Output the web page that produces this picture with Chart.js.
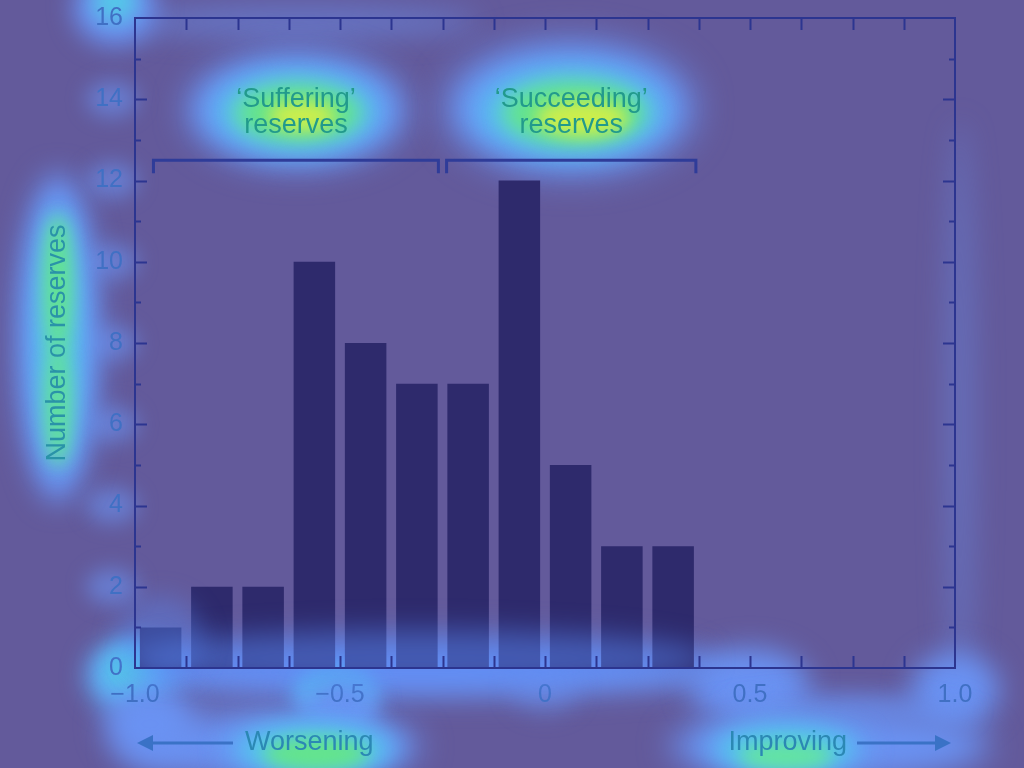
<!DOCTYPE html>
<html><head><meta charset="utf-8">
<style>html,body{margin:0;padding:0;background:#635a9b;overflow:hidden}#wrap{width:1024px;height:768px}</style>
<script src="https://cdn.jsdelivr.net/npm/chart.js@4/dist/chart.umd.min.js"></script>
</head><body><div id="wrap"><canvas id="c" width="1024" height="768"></canvas></div>
<script>
// ---- data ----
const binEdges = [-1.0, -0.875, -0.75, -0.625, -0.5, -0.375, -0.25, -0.125, 0, 0.125, 0.25, 0.375];
const counts = [1, 2, 2, 10, 8, 7, 7, 12, 5, 3, 3];
const xTickValues = [-1.0, -0.5, 0, 0.5, 1.0];
const xTickLabels = ['\u22121.0', '\u22120.5', '0', '0.5', '1.0'];
const yTickValues = [0, 2, 4, 6, 8, 10, 12, 14, 16];
const yTickLabels = ['0', '2', '4', '6', '8', '10', '12', '14', '16'];
const yTitle = 'Number of reserves';
const groupLabels = [['\u2018Suffering\u2019', 'reserves'], ['\u2018Succeeding\u2019', 'reserves']];
const groupSpans = [[-0.955, -0.26], [-0.24, 0.368]];
const groupLevel = 12.5;
const directionLabels = ['Worsening', 'Improving'];

const FONT = "'Liberation Sans', Arial, Helvetica, sans-serif";
const BG = '#635a9b';

function blob(ctx, cx, cy, rx, ry, color, blur) {
  ctx.save();
  ctx.filter = 'blur(' + blur + 'px)';
  ctx.fillStyle = color;
  ctx.beginPath();
  ctx.ellipse(cx, cy, rx, ry, 0, 0, Math.PI * 2);
  ctx.fill();
  ctx.restore();
}

const OUT = 'rgba(106,146,242,1)';
const OUTF = 'rgba(106,146,242,0.5)';
const LB = 'rgba(96,170,246,1)';
const CY = 'rgba(84,200,232,1)';
const GR = 'rgba(100,228,140,1)';
const YE = 'rgba(204,238,76,1)';

const glowPlugin = {
  id: 'glow',
  beforeDraw(chart) {
    const ctx = chart.ctx;
    ctx.save();
    ctx.fillStyle = BG;
    ctx.fillRect(0, 0, chart.width, chart.height);
    // faint halos along frame
    blob(ctx, 300, 22, 180, 16, OUTF, 14);
    blob(ctx, 960, 420, 16, 300, 'rgba(106,146,242,0.35)', 14);
    for (let i = 1; i < 8; i++) {
      const y = 668 - i * 2 * 40.625;
      blob(ctx, 112, y, 26, 18, 'rgba(106,146,242,0.6)', 10);
    }
    // 16 label
    blob(ctx, 115, 8, 42, 38, OUT, 12);
    blob(ctx, 115, 2, 22, 20, CY, 10);
    // y title
    blob(ctx, 58, 338, 42, 165, OUT, 14);
    blob(ctx, 58, 338, 28, 138, LB, 12);
    blob(ctx, 58, 336, 18, 120, CY, 10);
    blob(ctx, 58, 285, 13, 70, GR, 9);
    blob(ctx, 58, 405, 12, 62, 'rgba(100,228,140,0.9)', 9);
    // Suffering
    blob(ctx, 297, 110, 110, 58, OUT, 16);
    blob(ctx, 297, 111, 90, 44, LB, 14);
    blob(ctx, 297, 112, 74, 34, CY, 12);
    blob(ctx, 298, 113, 62, 28, GR, 10);
    blob(ctx, 302, 116, 34, 15, YE, 8);
    // Succeeding
    blob(ctx, 570, 108, 124, 66, OUT, 18);
    blob(ctx, 570, 110, 102, 50, LB, 14);
    blob(ctx, 572, 112, 84, 38, CY, 12);
    blob(ctx, 574, 113, 70, 31, GR, 10);
    blob(ctx, 582, 118, 46, 18, YE, 8);
    // bottom axis band
    blob(ctx, 420, 672, 320, 24, OUT, 14);
    blob(ctx, 130, 676, 44, 38, LB, 12);
    blob(ctx, 128, 672, 24, 24, CY, 10);
    blob(ctx, 335, 692, 44, 30, LB, 10);
    blob(ctx, 335, 692, 30, 20, CY, 10);
    blob(ctx, 340, 712, 36, 34, OUT, 12);
    blob(ctx, 545, 690, 32, 22, OUTF, 12);
    blob(ctx, 750, 686, 60, 38, OUT, 14);
    blob(ctx, 955, 690, 44, 38, OUT, 14);
    blob(ctx, 850, 710, 120, 14, 'rgba(106,146,242,0.7)', 12);
    // Worsening
    blob(ctx, 270, 746, 150, 36, OUT, 16);
    blob(ctx, 150, 724, 46, 38, OUT, 14);
    blob(ctx, 312, 748, 88, 30, LB, 12);
    blob(ctx, 314, 750, 70, 22, CY, 10);
    blob(ctx, 316, 754, 52, 16, GR, 8);
    // Improving
    blob(ctx, 830, 746, 160, 36, OUT, 16);
    blob(ctx, 786, 748, 82, 28, LB, 12);
    blob(ctx, 786, 750, 64, 20, CY, 10);
    blob(ctx, 786, 756, 46, 13, 'rgba(100,228,160,1)', 8);
    ctx.restore();
  },
  afterDatasetsDraw(chart) {
    const ctx = chart.ctx;
    const xs = chart.scales.x, ys = chart.scales.y;
    const { left, right, top, bottom } = chart.chartArea;
    ctx.save();
    // glow over bar bases
    blob(ctx, 420, 658, 290, 28, 'rgba(90,140,250,0.5)', 14);
    blob(ctx, 160, 640, 44, 44, 'rgba(90,140,250,0.35)', 12);
    // frame
    ctx.strokeStyle = '#2c3590';
    ctx.lineWidth = 2;
    ctx.strokeRect(left, top, right - left, bottom - top);
    // x ticks every 0.125, inward, top and bottom
    ctx.beginPath();
    for (let k = 1; k < 16; k++) {
      const px = Math.round(xs.getPixelForValue(-1 + k * 0.125)) + 0.5;
      ctx.moveTo(px, bottom); ctx.lineTo(px, bottom - 12);
      ctx.moveTo(px, top); ctx.lineTo(px, top + 12);
    }
    // y ticks every 1
    for (let v = 1; v < 16; v++) {
      const py = Math.round(ys.getPixelForValue(v)) + 0.5;
      const len = v % 2 === 0 ? 12 : 6;
      ctx.moveTo(left, py); ctx.lineTo(left + len, py);
      ctx.moveTo(right, py); ctx.lineTo(right - len, py);
    }
    ctx.lineWidth = 2;
    ctx.stroke();
    // brackets
    ctx.strokeStyle = '#2f3c99';
    ctx.lineWidth = 3;
    const by = ys.getPixelForValue(groupLevel);
    groupSpans.forEach((sp, i) => {
      const x1 = xs.getPixelForValue(sp[0]), x2 = xs.getPixelForValue(sp[1]);
      ctx.beginPath();
      ctx.moveTo(x1, by + 13); ctx.lineTo(x1, by); ctx.lineTo(x2, by); ctx.lineTo(x2, by + 13);
      ctx.stroke();
      ctx.fillStyle = '#229a8c';
      ctx.font = '27px ' + FONT;
      ctx.textAlign = 'center';
      ctx.textBaseline = 'middle';
      const cx = (x1 + x2) / 2;
      ctx.fillText(groupLabels[i][0], cx, by - 61);
      ctx.fillText(groupLabels[i][1], cx, by - 35);
    });
    // direction arrows & labels
    const ay = 743;
    ctx.strokeStyle = '#3a72c6';
    ctx.fillStyle = '#3a72c6';
    ctx.lineWidth = 3;
    ctx.beginPath(); ctx.moveTo(left + 98, ay); ctx.lineTo(left + 14, ay); ctx.stroke();
    ctx.beginPath(); ctx.moveTo(left + 2, ay); ctx.lineTo(left + 18, ay - 8); ctx.lineTo(left + 18, ay + 8); ctx.closePath(); ctx.fill();
    ctx.beginPath(); ctx.moveTo(right - 98, ay); ctx.lineTo(right - 14, ay); ctx.stroke();
    ctx.beginPath(); ctx.moveTo(right - 4, ay); ctx.lineTo(right - 20, ay - 8); ctx.lineTo(right - 20, ay + 8); ctx.closePath(); ctx.fill();
    ctx.font = '27px ' + FONT;
    ctx.textBaseline = 'middle';
    ctx.fillStyle = '#2b88b4';
    ctx.textAlign = 'left';
    ctx.fillText(directionLabels[0], left + 110, ay);
    ctx.textAlign = 'right';
    ctx.fillText(directionLabels[1], right - 108, ay);
    ctx.restore();
  }
};

const barData = counts.map((c, i) => ({ x: (binEdges[i] + binEdges[i + 1]) / 2, y: c }));

new Chart(document.getElementById('c'), {
  type: 'bar',
  data: {
    datasets: [{
      data: barData,
      backgroundColor: '#2e2a6c',
      borderWidth: 0,
      barPercentage: 0.81,
      categoryPercentage: 1.0
    }]
  },
  options: {
    responsive: false,
    animation: false,
    events: [],
    layout: { padding: { top: 18, right: 69, left: 0, bottom: 0 } },
    plugins: { legend: { display: false }, tooltip: { enabled: false }, title: { display: false } },
    scales: {
      x: {
        type: 'linear', min: -1, max: 1, offset: false,
        grid: { display: false, drawTicks: false },
        border: { display: false },
        afterBuildTicks: s => { s.ticks = xTickValues.map(v => ({ value: v })); },
        ticks: {
          callback: (v, i) => xTickLabels[i],
          color: '#4070c4', font: { size: 25, family: FONT }, padding: 12,
          maxRotation: 0, autoSkip: false
        },
        afterFit: s => { s.height = 100; s.paddingLeft = 0; s.paddingRight = 0; }
      },
      y: {
        type: 'linear', min: 0, max: 16,
        grid: { display: false, drawTicks: false },
        border: { display: false },
        afterBuildTicks: s => { s.ticks = yTickValues.map(v => ({ value: v })); },
        ticks: {
          callback: (v, i) => yTickLabels[i],
          color: '#4070c4', font: { size: 25, family: FONT }, padding: 12, autoSkip: false
        },
        title: {
          display: true, text: yTitle, color: '#2a93a8',
          font: { size: 27, family: FONT }, padding: { top: 41, bottom: 0 }
        },
        afterFit: s => { s.width = 135; s.paddingTop = 0; s.paddingBottom = 0; }
      }
    }
  },
  plugins: [glowPlugin]
});
</script>
</body></html>
